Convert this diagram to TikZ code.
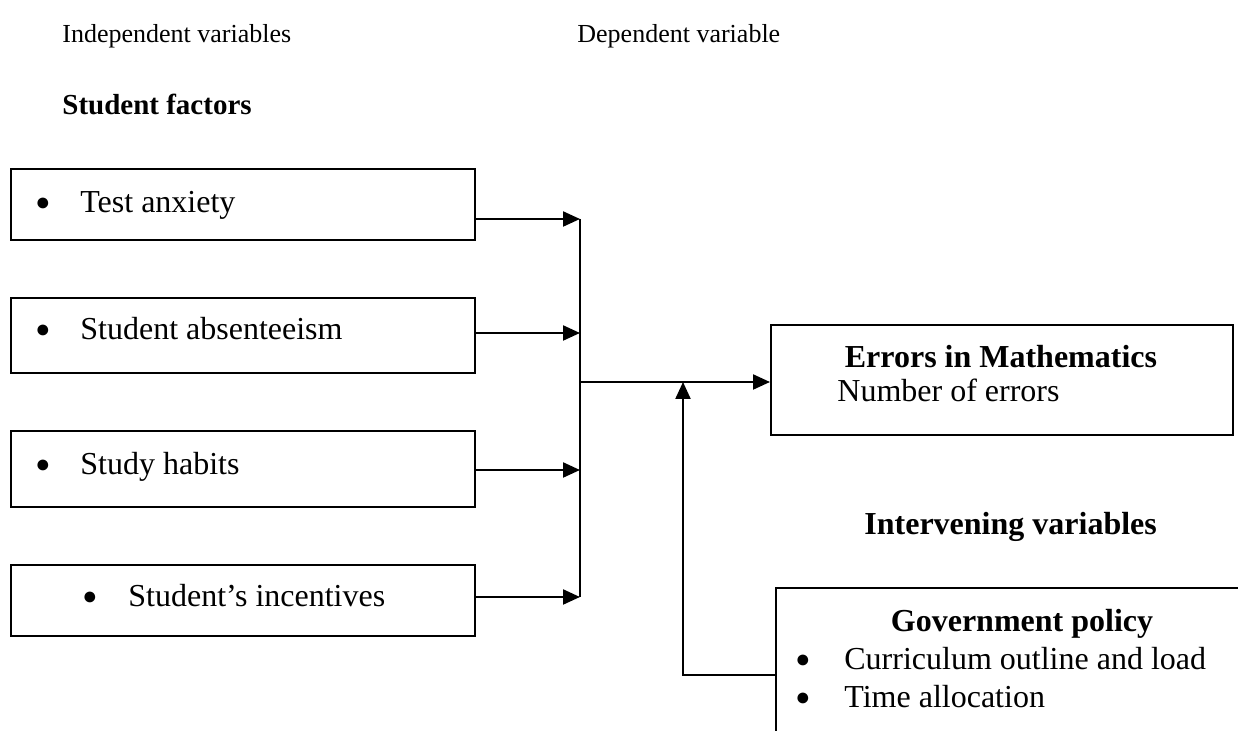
\documentclass[tikz,border=0pt]{standalone}
\usepackage{fontspec}
\setmainfont{Liberation Serif}
\usetikzlibrary{arrows.meta}
\newcommand{\bul}{\raisebox{1.3pt}{\fontsize{12.5}{12.5}\selectfont ●}}
\begin{document}
\begin{tikzpicture}[x=0.5pt,y=-0.5pt,
  box/.style={draw, line width=1.1pt, inner sep=0pt, anchor=north west},
  conn/.style={line width=1.1pt},
  arr/.style={conn, -{Triangle[length=8.5pt,width=7.5pt]}},
  txt/.style={anchor=base west, inner sep=0pt, font=\fontsize{16}{19}\selectfont},
  head/.style={anchor=base west, inner sep=0pt, font=\fontsize{13}{16}\selectfont},
  bhead/.style={anchor=base west, inner sep=0pt, font=\fontsize{14.5}{17}\selectfont\bfseries},
  btitle/.style={anchor=base, inner sep=0pt, font=\fontsize{16}{19}\selectfont\bfseries}
]
\useasboundingbox (0,0) rectangle (1238,731);

% headings
\node[head] (indep) at (62,43) {Independent variables};
\node[head] (dep) at (577,43) {Dependent variable};
\node[bhead] (sf) at (62,115) {Student factors};

% student factor boxes
\node[box, minimum width=232pt, minimum height=35.5pt] (b1) at (10,168) {};
\node[box, minimum width=232pt, minimum height=37.5pt] (b2) at (10,297) {};
\node[box, minimum width=232pt, minimum height=38pt] (b3) at (10,430) {};
\node[box, minimum width=232pt, minimum height=35.5pt] (b4) at (10,564) {};

\node[txt] (t1) at (35,213) {\makebox[22.5pt][l]{\bul}Test anxiety};
\node[txt] (t2) at (35,340) {\makebox[22.5pt][l]{\bul}Student absenteeism};
\node[txt] (t3) at (35,475) {\makebox[22.5pt][l]{\bul}Study habits};
\node[txt] (t4) at (82,607) {\makebox[23pt][l]{\bul}Student’s incentives};

% dependent variable box
\node[box, minimum width=231pt, minimum height=55pt] (em) at (770,324) {};
\node[btitle] (emt) at (1001,368) {Errors in Mathematics};
\node[txt] (emn) at (837,402) {Number of errors};

% intervening
\node[bhead, font=\fontsize{16}{19}\selectfont\bfseries] (iv) at (864,535) {Intervening variables};

% government policy box (open at right and bottom)
\draw[conn] (1238,588) -- (776,588) -- (776,731);
\coordinate (gl) at (776,675);
\node[btitle] (gpt) at (1022,632) {Government policy};
\node[txt] (g1) at (795,670) {\makebox[24.5pt][l]{\bul}Curriculum outline and load};
\node[txt] (g2) at (795,708) {\makebox[24.5pt][l]{\bul}Time allocation};

% connectors
\coordinate (j1) at (580,219);
\coordinate (j4) at (580,597);
\coordinate (jm) at (580,382);
\coordinate (up) at (683,382);
\draw[arr] (b1.east |- 0,219) -- (j1);
\draw[arr] (b2.east |- 0,333) -- (580,333);
\draw[arr] (b3.east |- 0,470) -- (580,470);
\draw[arr] (b4.east |- 0,597) -- (j4);
\draw[conn] (j1) -- (j4);
\draw[arr] (jm) -- (em.west |- jm);
\draw[arr] (gl) -- (up |- gl) -- (up);
\end{tikzpicture}
\end{document}
